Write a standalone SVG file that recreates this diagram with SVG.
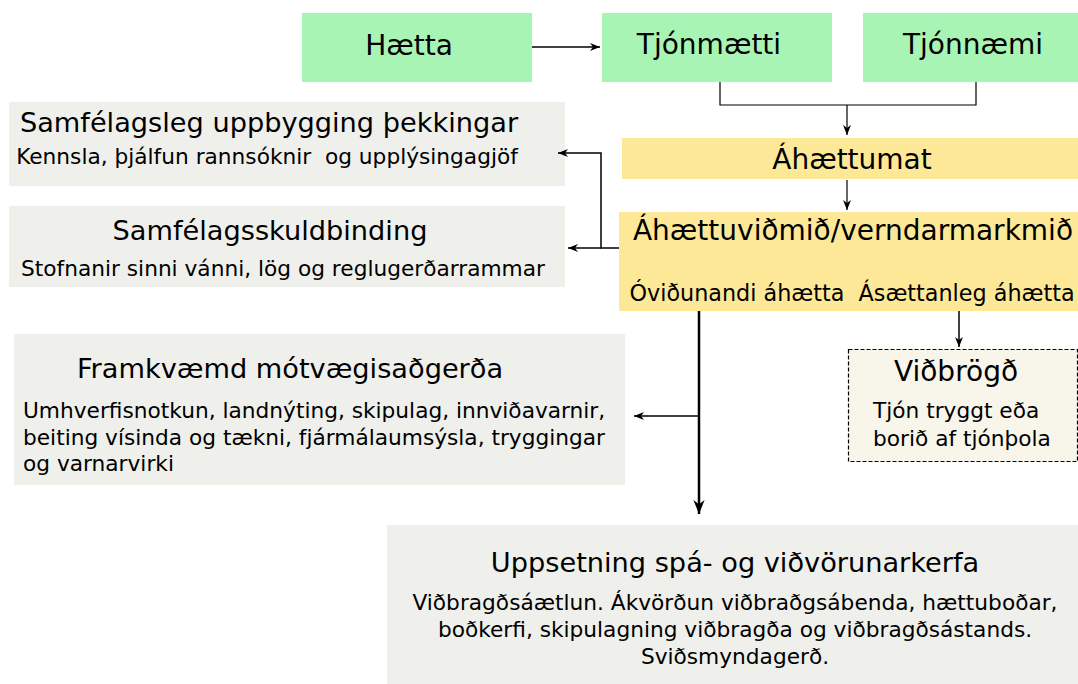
<svg xmlns="http://www.w3.org/2000/svg" width="1078" height="684" viewBox="0 0 1078 684">
<defs>
<style>
.green{fill:#a8f4b4}
.yellow{fill:#fde898}
.gray{fill:#eff0ec}
.resp{fill:#f8f6ea;stroke:#000;stroke-width:1.2;stroke-dasharray:4,2}
text{fill:#000}
.t{font-family:"DejaVu Sans",sans-serif;font-size:28px}
.tc{font-family:"DejaVu Sans",sans-serif;font-size:27.2px}
.s{font-family:"DejaVu Sans",sans-serif;font-size:21.7px}
.c{stroke:#000;fill:none;stroke-width:1.5}
.thin{stroke:#000;fill:none;stroke-width:1.2}
.thick{stroke:#000;fill:none;stroke-width:2.5}
</style>
<marker id="ah" viewBox="0 0 10 10" refX="10" refY="5" markerWidth="10" markerHeight="10" markerUnits="userSpaceOnUse" orient="auto">
<path d="M0,1 L10,5 L0,9 L3,5 Z" fill="#000"/>
</marker>
<marker id="ahb" viewBox="0 0 10 10" refX="10" refY="5" markerWidth="14" markerHeight="14" markerUnits="userSpaceOnUse" orient="auto">
<path d="M0,1 L10,5 L0,9 L3,5 Z" fill="#000"/>
</marker>
</defs>

<g id="haetta">
<rect class="green" x="302" y="13" width="230" height="69"/>
<text class="t" x="409" y="55" text-anchor="middle">Hætta</text>
</g>
<g id="tjonmaetti">
<rect class="green" x="602" y="13" width="230" height="69"/>
<text class="t" x="709" y="54" text-anchor="middle">Tjónmætti</text>
</g>
<g id="tjonnaemi">
<rect class="green" x="863" y="13" width="215" height="69"/>
<text class="t" x="973" y="54" text-anchor="middle">Tjónnæmi</text>
</g>
<g id="ahaettumat">
<rect class="yellow" x="622" y="138" width="456" height="41"/>
<text class="t" x="852" y="169" text-anchor="middle">Áhættumat</text>
</g>
<g id="ahaettuvidmid">
<rect class="yellow" x="619" y="212" width="459" height="99"/>
<text class="t" x="853" y="240" text-anchor="middle">Áhættuviðmið/verndarmarkmið</text>
<text class="s" x="852" y="301" text-anchor="middle" style="font-size:22.3px" xml:space="preserve">Óviðunandi áhætta  Ásættanleg áhætta</text>
</g>
<g id="samfelagsleg">
<rect class="gray" x="9" y="102" width="556" height="84"/>
<text class="tc" x="269" y="132" text-anchor="middle">Samfélagsleg uppbygging þekkingar</text>
<text class="s" x="267" y="164" text-anchor="middle" xml:space="preserve">Kennsla, þjálfun rannsóknir  og upplýsingagjöf</text>
</g>
<g id="samfelagsskuldbinding">
<rect class="gray" x="9" y="206" width="556" height="81"/>
<text class="tc" x="270" y="240" text-anchor="middle">Samfélagsskuldbinding</text>
<text class="s" x="283" y="276" text-anchor="middle">Stofnanir sinni vánni, lög og reglugerðarrammar</text>
</g>
<g id="framkvaemd">
<rect class="gray" x="14" y="334" width="611" height="151"/>
<text class="tc" x="290" y="378" text-anchor="middle">Framkvæmd mótvægisaðgerða</text>
<text class="s" x="23" y="418">Umhverfisnotkun, landnýting, skipulag, innviðavarnir,</text>
<text class="s" x="23" y="445">beiting vísinda og tækni, fjármálaumsýsla, tryggingar</text>
<text class="s" x="23" y="471">og varnarvirki</text>
</g>
<g id="vidbrogd">
<rect class="resp" x="848.5" y="349.5" width="229" height="112"/>
<text class="t" x="956" y="381" text-anchor="middle">Viðbrögð</text>
<text class="s" x="873" y="418">Tjón tryggt eða</text>
<text class="s" x="873" y="446">borið af tjónþola</text>
</g>
<g id="uppsetning">
<rect class="gray" x="387" y="525" width="691" height="159"/>
<text class="tc" x="735" y="572" text-anchor="middle">Uppsetning spá- og viðvörunarkerfa</text>
<text class="s" x="735" y="610" text-anchor="middle">Viðbragðsáætlun. Ákvörðun viðbraðgsábenda, hættuboðar,</text>
<text class="s" x="735" y="637" text-anchor="middle">boðkerfi, skipulagning viðbragða og viðbragðsástands.</text>
<text class="s" x="735" y="664" text-anchor="middle">Sviðsmyndagerð.</text>
</g>

<g id="connectors">
<path class="c" d="M532,47 H600" marker-end="url(#ah)"/>
<path class="thin" d="M720,82 V105 H976 V82"/>
<path class="thin" d="M847,105 V135" marker-end="url(#ah)"/>
<path class="thin" d="M847,180 V210" marker-end="url(#ah)"/>
<path class="c" d="M619,248 H601 V153 H558" marker-end="url(#ah)"/>
<path class="c" d="M601,248 H568" marker-end="url(#ah)"/>
<path class="thick" d="M699,311 V514" marker-end="url(#ahb)"/>
<path class="c" d="M699,416 H634" marker-end="url(#ah)"/>
<path class="c" d="M959,311 V347" marker-end="url(#ah)"/>
</g>
</svg>
